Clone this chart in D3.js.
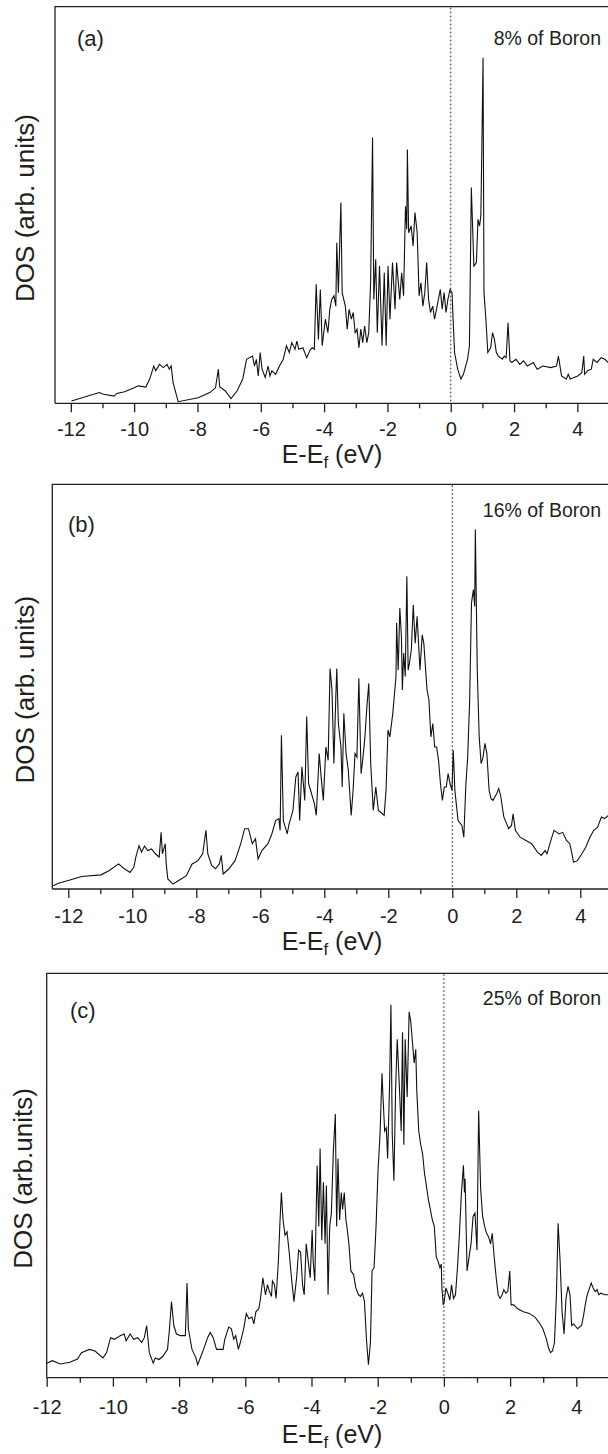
<!DOCTYPE html>
<html>
<head>
<meta charset="utf-8">
<script src="https://cdn.jsdelivr.net/npm/d3@7/dist/d3.min.js"></script>
<style>
  html, body { margin: 0; padding: 0; background: #fff; }
  svg { display: block; font-family: "Liberation Sans", Arial, Helvetica, sans-serif; }
</style>
</head>
<body>
<svg id="chart" width="608" height="1454"></svg>
<script>
// ---------------- DATA ----------------
const majorTicks = [-12, -10, -8, -6, -4, -2, 0, 2, 4];
const minorTicks = [-11, -9, -7, -5, -3, -1, 1, 3, 5];
const panelLabels = ["(a)", "(b)", "(c)"];
const boronLabels = ["8% of Boron", "16% of Boron", "25% of Boron"];
const yTitles = ["DOS (arb. units)", "DOS (arb. units)", "DOS (arb.units)"];

// Panel (a): 8% of Boron  (energy in eV, DOS in arbitrary units 0-100)
const energyA = [-11.98,-11.10,-10.97,-10.63,-10.55,-10.30,-10.00,-9.87,-9.63,-9.51,-9.38,-9.32,-9.20,-9.08,-8.96,-8.89,-8.83,-8.77,-8.61,-7.98,-7.61,-7.43,-7.34,-7.30,-7.12,-6.94,-6.75,-6.57,-6.45,-6.26,-6.20,-6.14,-6.08,-6.02,-5.96,-5.86,-5.77,-5.71,-5.65,-5.53,-5.41,-5.29,-5.19,-5.10,-5.02,-4.92,-4.86,-4.80,-4.67,-4.55,-4.43,-4.37,-4.31,-4.25,-4.18,-4.12,-4.06,-3.96,-3.88,-3.82,-3.76,-3.69,-3.63,-3.60,-3.55,-3.47,-3.43,-3.33,-3.27,-3.21,-3.14,-3.08,-3.02,-2.96,-2.90,-2.84,-2.78,-2.72,-2.65,-2.59,-2.53,-2.47,-2.43,-2.37,-2.32,-2.25,-2.17,-2.10,-2.04,-1.98,-1.92,-1.84,-1.76,-1.71,-1.61,-1.55,-1.49,-1.43,-1.39,-1.37,-1.33,-1.25,-1.19,-1.13,-1.06,-1.00,-0.94,-0.88,-0.82,-0.76,-0.70,-0.64,-0.57,-0.51,-0.39,-0.33,-0.27,-0.21,-0.15,-0.09,-0.02,0.04,0.07,0.12,0.22,0.32,0.40,0.53,0.59,0.65,0.73,0.81,0.86,0.91,0.95,0.98,1.02,1.05,1.11,1.17,1.26,1.32,1.38,1.44,1.50,1.57,1.63,1.69,1.75,1.81,1.87,1.93,2.06,2.18,2.30,2.42,2.61,2.73,2.91,3.16,3.34,3.40,3.50,3.65,3.71,3.77,3.89,4.01,4.14,4.20,4.23,4.32,4.44,4.50,4.62,4.75,4.87,4.97,5.00];
const dosA = [0.6,2.7,2.3,1.8,2.5,2.9,3.9,4.4,4.1,6.1,9.4,8.2,9.8,9.0,9.8,8.6,9.4,5.2,0.4,1.4,2.7,3.9,8.6,4.2,3.1,1.2,3.1,6.1,11.1,11.9,9.4,11.1,6.9,12.8,8.6,6.5,9.4,6.9,8.2,7.3,9.4,11.1,14.5,12.8,15.3,13.6,15.7,13.6,14.0,11.5,13.6,14.0,13.6,30.0,16.1,28.7,14.5,21.2,17.8,23.7,26.2,27.1,24.5,40.5,27.9,50.6,27.9,24.5,18.7,23.7,21.2,22.9,17.8,18.7,14.0,18.7,15.3,19.5,15.3,17.8,30.8,67.0,26.2,36.3,17.8,34.6,14.5,32.9,14.5,34.6,21.2,35.5,23.7,35.5,26.2,32.9,27.1,49.7,43.9,64.0,43.0,44.7,39.7,48.1,43.0,27.1,30.4,24.5,27.9,35.5,26.2,22.9,24.5,21.2,26.2,28.7,23.7,27.9,22.9,26.2,28.7,27.9,22.0,12.8,8.6,6.1,7.3,11.1,14.5,54.4,34.6,35.5,46.4,44.7,47.2,63.2,87.1,27.9,21.2,12.8,14.0,17.8,16.1,12.8,11.9,11.5,11.1,11.9,11.5,20.3,10.7,10.3,11.1,9.8,10.7,9.4,10.3,8.6,9.4,9.0,9.4,11.9,6.9,6.1,7.3,6.1,6.5,6.9,7.7,11.9,7.3,8.2,8.6,11.1,10.3,11.5,11.1,10.3,10.0];

// Panel (b): 16% of Boron
const energyB = [-12.47,-12.31,-11.95,-11.58,-10.98,-10.73,-10.43,-10.25,-10.07,-9.95,-9.89,-9.79,-9.71,-9.62,-9.52,-9.40,-9.28,-9.16,-9.10,-9.06,-8.97,-8.94,-8.89,-8.73,-8.55,-8.31,-8.13,-7.95,-7.80,-7.70,-7.64,-7.52,-7.40,-7.28,-7.22,-7.16,-6.98,-6.79,-6.61,-6.49,-6.37,-6.25,-6.15,-6.07,-5.95,-5.76,-5.64,-5.52,-5.42,-5.38,-5.34,-5.28,-5.16,-5.10,-4.98,-4.89,-4.82,-4.77,-4.70,-4.61,-4.55,-4.49,-4.43,-4.31,-4.25,-4.16,-4.09,-4.03,-3.95,-3.88,-3.82,-3.76,-3.70,-3.64,-3.61,-3.56,-3.48,-3.44,-3.39,-3.32,-3.25,-3.16,-3.10,-3.04,-2.98,-2.92,-2.85,-2.79,-2.73,-2.67,-2.61,-2.55,-2.47,-2.39,-2.31,-2.19,-2.13,-2.07,-2.01,-1.95,-1.86,-1.76,-1.74,-1.69,-1.64,-1.59,-1.56,-1.52,-1.47,-1.42,-1.38,-1.34,-1.28,-1.22,-1.16,-1.10,-1.01,-0.94,-0.89,-0.79,-0.73,-0.67,-0.61,-0.55,-0.49,-0.43,-0.37,-0.31,-0.25,-0.19,-0.13,-0.07,-0.01,0.03,0.08,0.18,0.30,0.36,0.42,0.48,0.54,0.60,0.66,0.70,0.72,0.78,0.84,0.90,0.96,1.02,1.08,1.15,1.21,1.27,1.39,1.45,1.51,1.61,1.76,1.85,1.90,1.97,2.12,2.30,2.48,2.66,2.78,2.90,2.96,3.08,3.18,3.33,3.45,3.57,3.67,3.72,3.79,3.91,4.05,4.17,4.30,4.42,4.54,4.66,4.76,4.88,5.00];
const dosB = [0.8,1.4,2.2,3.1,3.5,4.5,6.2,5.0,4.1,5.4,7.9,10.7,9.1,10.6,9.5,9.9,8.7,7.9,14.0,8.7,11.2,6.2,2.5,1.2,2.1,3.3,6.2,7.0,8.7,14.5,8.7,5.8,5.0,6.2,8.3,3.7,5.0,7.0,11.2,14.9,14.9,11.2,12.4,7.4,9.5,11.2,13.6,16.9,17.4,14.5,38.0,16.9,13.6,16.1,19.4,27.7,28.9,16.9,30.2,21.9,42.6,26.0,24.4,21.1,18.2,33.5,26.9,21.9,35.1,31.8,54.5,49.2,31.0,47.5,54.5,40.9,35.1,25.2,43.4,33.5,29.3,18.2,24.4,33.5,32.6,52.1,28.5,32.6,37.6,45.0,50.8,31.0,19.4,25.2,19.4,18.6,18.2,24.4,39.3,37.6,43.4,52.5,65.7,54.1,69.4,62.4,49.2,58.3,52.5,77.3,54.1,55.8,59.1,70.2,60.7,67.4,54.1,62.8,60.7,49.2,46.7,37.6,40.9,35.1,35.1,31.8,26.0,21.9,25.2,25.2,28.5,26.0,24.4,34.3,24.4,16.9,15.7,12.8,25.2,32.6,45.9,70.7,74.0,69.8,88.8,54.1,37.6,31.0,32.6,36.0,33.5,24.4,22.3,21.9,23.6,24.8,23.1,17.8,14.9,15.7,18.6,14.5,12.8,12.0,11.2,9.1,8.3,9.5,8.7,12.0,14.5,13.6,14.0,12.0,11.2,9.5,6.6,7.0,8.7,10.3,12.8,14.5,15.3,17.8,17.4,18.2,18.6];

// Panel (c): 25% of Boron
const energyC = [-12.00,-11.83,-11.59,-11.30,-11.07,-10.95,-10.71,-10.54,-10.30,-10.19,-10.07,-9.95,-9.78,-9.66,-9.60,-9.48,-9.37,-9.25,-9.13,-9.05,-8.98,-8.90,-8.78,-8.72,-8.61,-8.49,-8.35,-8.29,-8.23,-8.16,-8.08,-7.96,-7.81,-7.76,-7.72,-7.61,-7.49,-7.44,-7.34,-7.26,-7.14,-7.06,-6.97,-6.87,-6.67,-6.62,-6.50,-6.42,-6.35,-6.29,-6.21,-6.15,-6.05,-5.97,-5.89,-5.80,-5.74,-5.68,-5.59,-5.54,-5.47,-5.39,-5.33,-5.27,-5.21,-5.18,-5.12,-5.07,-5.00,-4.95,-4.91,-4.86,-4.80,-4.74,-4.68,-4.60,-4.53,-4.45,-4.39,-4.33,-4.27,-4.22,-4.16,-4.10,-4.04,-3.98,-3.95,-3.90,-3.83,-3.78,-3.74,-3.69,-3.64,-3.59,-3.55,-3.50,-3.45,-3.40,-3.34,-3.28,-3.24,-3.20,-3.15,-3.10,-3.06,-3.01,-2.96,-2.93,-2.87,-2.81,-2.73,-2.66,-2.58,-2.52,-2.46,-2.40,-2.34,-2.28,-2.22,-2.17,-2.11,-2.05,-1.99,-1.93,-1.87,-1.84,-1.79,-1.74,-1.70,-1.64,-1.60,-1.56,-1.51,-1.46,-1.41,-1.35,-1.29,-1.25,-1.21,-1.17,-1.11,-1.05,-1.00,-0.94,-0.90,-0.85,-0.82,-0.76,-0.70,-0.64,-0.59,-0.53,-0.47,-0.41,-0.35,-0.29,-0.23,-0.18,-0.12,-0.08,-0.06,-0.02,0.01,0.06,0.12,0.18,0.23,0.29,0.35,0.41,0.47,0.53,0.59,0.62,0.64,0.70,0.76,0.82,0.88,0.94,1.00,1.05,1.11,1.17,1.23,1.29,1.35,1.41,1.46,1.52,1.58,1.64,1.70,1.76,1.81,1.87,1.93,1.99,2.03,2.11,2.22,2.40,2.58,2.75,2.87,2.99,3.10,3.16,3.22,3.28,3.34,3.40,3.45,3.51,3.57,3.63,3.69,3.75,3.81,3.86,3.92,4.04,4.16,4.22,4.27,4.33,4.45,4.51,4.57,4.63,4.68,4.74,4.86,4.95,5.00];
const dosC = [3.6,4.2,3.4,3.8,4.6,6.2,7.0,6.6,4.9,6.2,9.9,9.5,10.4,10.8,9.1,10.8,9.5,9.9,8.7,9.9,12.9,6.2,3.6,4.9,4.5,5.3,7.0,12.1,18.8,12.9,10.8,10.4,10.4,23.4,12.1,7.0,4.9,3.2,5.3,7.0,9.9,11.2,9.9,7.0,7.0,9.5,12.5,12.1,9.5,10.4,7.0,8.7,12.1,15.9,14.6,15.0,13.3,16.3,17.1,19.6,24.7,20.5,23.0,21.3,20.1,23.9,23.0,19.6,28.9,39.0,45.8,39.0,35.2,36.1,31.5,24.3,18.8,24.7,31.5,31.0,23.0,20.5,33.1,28.9,24.7,36.5,28.9,23.9,52.5,37.4,56.7,34.0,48.3,33.1,47.5,20.5,37.4,40.7,55.9,65.2,37.4,54.2,39.0,45.8,41.6,45.8,39.0,37.4,33.1,26.4,25.5,22.2,20.5,20.1,20.9,18.8,9.5,3.2,8.7,26.4,27.2,37.4,51.3,60.1,75.3,69.4,61.0,61.8,54.2,72.8,92.2,60.1,48.7,71.1,83.7,72.8,61.0,85.4,57.6,83.7,69.4,90.5,87.9,82.0,77.8,81.2,71.1,61.0,57.6,55.1,50.8,47.5,44.1,41.6,39.0,37.4,29.8,28.9,27.2,28.1,22.2,18.0,18.8,22.2,20.9,19.2,23.0,19.6,20.5,27.2,35.7,45.8,52.5,45.8,49.2,26.4,29.8,33.1,39.9,40.7,31.5,66.0,46.6,39.9,37.4,35.7,34.8,33.1,35.7,29.8,24.7,20.5,19.6,20.5,21.8,20.9,21.3,26.4,18.0,18.0,17.1,16.3,15.9,15.0,13.7,12.1,9.5,7.4,6.2,6.6,8.7,20.5,38.2,28.9,16.3,10.8,19.6,22.6,20.5,12.9,13.3,12.1,12.9,15.4,18.0,20.5,23.4,22.2,21.3,21.8,20.5,20.9,20.5,20.5,20.3];

const energies = [energyA, energyB, energyC];
const doses = [dosA, dosB, dosC];

// ---------------- LAYOUT ----------------
const layout = [
  { xDomain: [-12.5, 5], left: 55.0, pxPerEv: 31.66, top: 6.7, bottom: 403.3, tickPad: 10,
    tagX: 77, tagY: 46, boronY: 45, yTitleX: 34, xTitleY: 463 },
  { xDomain: [-12.5, 5], left: 52.3, pxPerEv: 32.0, top: 484.3, bottom: 889, tickPad: 11,
    tagX: 68, tagY: 532, boronY: 516.5, yTitleX: 34, xTitleY: 950 },
  { xDomain: [-12, 5], left: 46.7, pxPerEv: 33.1, top: 973.3, bottom: 1377.7, tickPad: 13,
    tagX: 70, tagY: 1017.5, boronY: 1004.5, yTitleX: 32, xTitleY: 1443 }
];

const ink = "#231f20";
const svg = d3.select("#chart");

layout.forEach((L, i) => {
  const right = L.left + (L.xDomain[1] - L.xDomain[0]) * L.pxPerEv;
  const x = d3.scaleLinear().domain(L.xDomain).range([L.left, right]);
  const y = d3.scaleLinear().domain([0, 100]).range([L.bottom, L.top]);
  const g = svg.append("g");

  // Frame (top, left, right)
  g.append("path")
    .attr("d", `M${L.left},${L.bottom}V${L.top}H${right}V${L.bottom}`)
    .attr("fill", "none").attr("stroke", ink).attr("stroke-width", 1.3);

  // Fermi level dotted line
  g.append("line")
    .attr("x1", x(0)).attr("x2", x(0))
    .attr("y1", L.top + 1).attr("y2", L.bottom)
    .attr("stroke", ink).attr("stroke-width", 1)
    .attr("stroke-dasharray", "1.6,2.4");

  // DOS curve
  const pts = energies[i].map((e, k) => [e, doses[i][k]]);
  const line = d3.line().x(d => x(d[0])).y(d => y(d[1]));
  g.append("path")
    .datum(pts)
    .attr("d", line)
    .attr("fill", "none")
    .attr("stroke", "#111")
    .attr("stroke-width", 1.1)
    .attr("stroke-linejoin", "miter");

  // Minor ticks
  const minorAxis = d3.axisBottom(x).tickValues(minorTicks).tickSize(5).tickFormat("");
  const gm = g.append("g").attr("transform", `translate(0,${L.bottom})`).call(minorAxis);
  gm.select(".domain").remove();
  gm.selectAll(".tick line").attr("stroke", ink).attr("stroke-width", 1.3);

  // Major ticks + labels
  const majorAxis = d3.axisBottom(x).tickValues(majorTicks).tickSize(9)
    .tickPadding(L.tickPad).tickFormat(d => String(d));
  const ga = g.append("g").attr("transform", `translate(0,${L.bottom})`).call(majorAxis);
  ga.select(".domain").attr("stroke", ink).attr("stroke-width", 1.3)
    .attr("d", `M${L.left},0H${right}`);
  ga.selectAll(".tick line").attr("stroke", ink).attr("stroke-width", 1.3);
  ga.selectAll(".tick text")
    .attr("fill", ink)
    .style("font-size", "20px")
    .style("font-family", "'Liberation Sans', Arial, sans-serif");

  // Panel tag
  g.append("text").attr("x", L.tagX).attr("y", L.tagY)
    .attr("fill", ink).style("font-size", "22px").text(panelLabels[i]);

  // Boron label
  g.append("text").attr("x", 601).attr("y", L.boronY)
    .attr("text-anchor", "end")
    .attr("fill", ink).style("font-size", "19.5px").text(boronLabels[i]);

  // Y title
  const midY = (L.top + L.bottom) / 2 + 3;
  g.append("text")
    .attr("transform", `translate(${L.yTitleX},${midY}) rotate(-90)`)
    .attr("text-anchor", "middle")
    .attr("fill", ink).style("font-size", "26px")
    .text(yTitles[i]);

  // X title with subscript
  const xt = g.append("text")
    .attr("x", 332).attr("y", L.xTitleY)
    .attr("text-anchor", "middle")
    .attr("fill", ink).style("font-size", "25px");
  xt.append("tspan").text("E-E");
  xt.append("tspan").attr("dy", 5).style("font-size", "17px").text("f");
  xt.append("tspan").attr("dy", -5).text(" (eV)");
});
</script>
</body>
</html>
